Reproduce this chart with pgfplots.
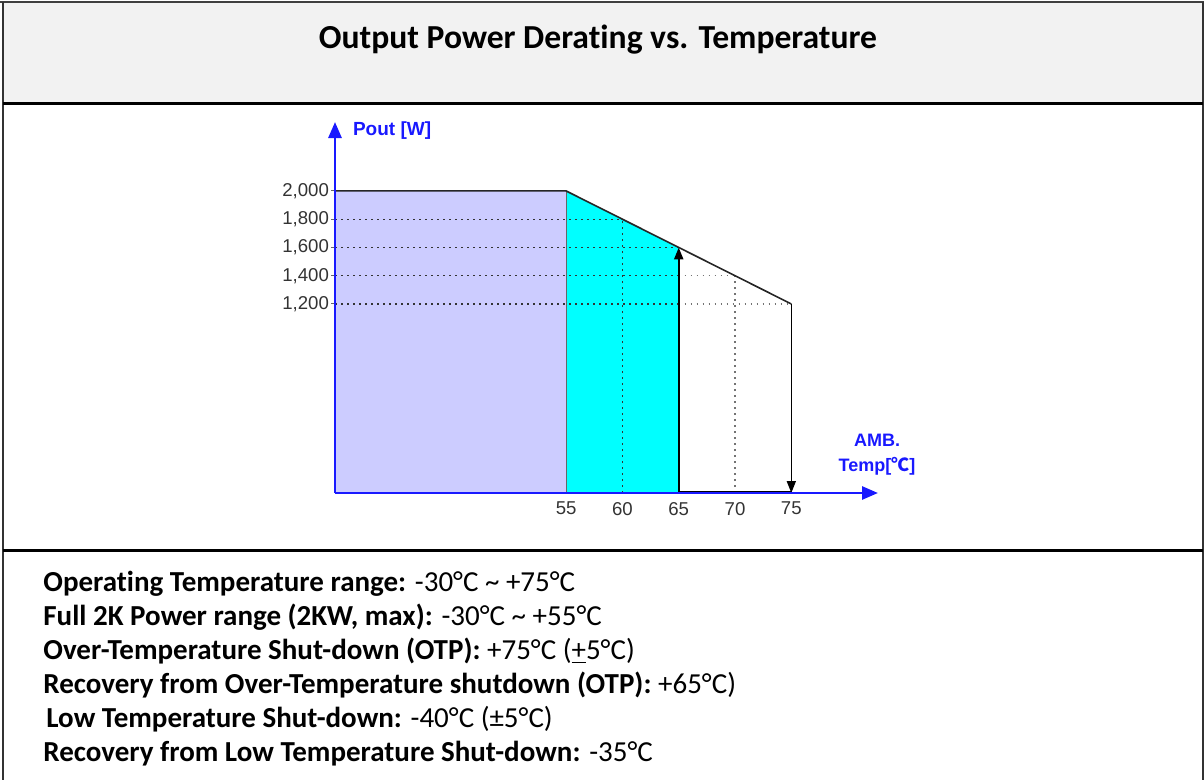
\documentclass[border=0pt]{standalone}
\usepackage{fontspec}
\setmainfont{Carlito}[Ligatures=NoCommon]
\newfontfamily\arial{Liberation Sans}
\newfontfamily\cjk{Noto Sans CJK SC}
\usepackage{pgfplots}
\pgfplotsset{compat=1.18}
\usetikzlibrary{arrows.meta}
\definecolor{lav}{RGB}{204,204,255}
\definecolor{cyn}{RGB}{0,255,255}
\definecolor{axblue}{RGB}{25,25,255}
\definecolor{band}{RGB}{242,242,242}
\begin{document}
\begin{tikzpicture}
\useasboundingbox (0,0) rectangle (602pt,-390pt);
\fill[band] (1.5pt,-1.5pt) rectangle (601.5pt,-52pt);
\draw[black!75, line width=1pt] (0,-1.2pt) -- (602pt,-1.2pt);
\draw[black!80, line width=0.6pt] (1.5pt,-1pt) -- (1.5pt,-390pt);
\draw[black!80, line width=0.6pt] (601.5pt,-1pt) -- (601.5pt,-390pt);
\draw[black, line width=1.5pt] (1.5pt,-52pt) -- (601.5pt,-52pt);
\draw[black, line width=1.5pt] (1.5pt,-275pt) -- (601.5pt,-275pt);
\node[font=\bfseries\fontsize{16.8}{19}\selectfont] at (299pt,-20pt) {Output Power Derating vs. Temperature};

\begin{axis}[
  at={(167.5pt,-246.5pt)}, anchor=south west,
  width=271.5pt, height=185.5pt, scale only axis,
  xmin=34.47, xmax=82.7, ymin=-138, ymax=2488,
  axis lines=left, clip=false, axis on top,
  axis line style={axblue, line width=1.4pt, -{Triangle[length=8pt,width=6.5pt]}},
  xtick={55,60,65,70,75}, ytick={1200,1400,1600,1800,2000},
  /pgf/number format/assume math mode=true,
  /pgf/number format/1000 sep={,},
  /pgf/number format/fixed,
  tick label style={font=\arial\fontsize{9.3}{10}\selectfont, text=black!80},
  xtick style={draw=none},
  ytick style={black!60, line width=0.5pt},
  tick align=outside, major tick length=2pt,
  yticklabel style={xshift=2.5pt},
  xticklabel style={yshift=1pt},
]
\addplot[fill=lav, draw=none] coordinates {(34.47,-138) (34.47,2000) (55,2000) (55,-138)} -- cycle;
\addplot[fill=cyn, draw=none] coordinates {(55,-138) (55,2000) (65,1600) (65,-138)} -- cycle;
% dotted grid
\addplot[black!80, line width=0.7pt, dash pattern=on 0.8pt off 2.2pt] coordinates {(34.47,1800) (60,1800)};
\addplot[black!80, line width=0.7pt, dash pattern=on 0.8pt off 2.2pt] coordinates {(34.47,1600) (65,1600)};
\addplot[black!80, line width=0.7pt, dash pattern=on 0.8pt off 2.2pt] coordinates {(34.47,1400) (65,1400)};
\addplot[black!80, line width=0.7pt, dash pattern=on 0.8pt off 2.2pt] coordinates {(34.47,1200) (65,1200)};
\addplot[black!55, line width=0.7pt, dash pattern=on 0.8pt off 2.2pt] coordinates {(65,1400) (70,1400)};
\addplot[black!55, line width=0.7pt, dash pattern=on 0.8pt off 2.2pt] coordinates {(65,1200) (75,1200)};
\addplot[black!80, line width=0.7pt, dash pattern=on 0.8pt off 2.2pt] coordinates {(60,-138) (60,1800)};
\addplot[black!55, line width=0.7pt, dash pattern=on 0.8pt off 2.2pt] coordinates {(70,-138) (70,1400)};
% outlines
\addplot[black!60, line width=0.6pt] coordinates {(55,-138) (55,2000)};
\addplot[black!85, line width=0.8pt] coordinates {(34.47,2000) (55,2000) (75,1200)};
\addplot[black, line width=1.1pt, -{Triangle[length=6pt,width=4.5pt]}] coordinates {(65,-138) (65,1600)};
\addplot[black, line width=0.8pt, -{Triangle[length=6pt,width=4.5pt]}] coordinates {(75,1200) (75,-138)};
\addplot[black, line width=0.8pt] coordinates {(65,-126) (75,-126)};
\end{axis}

\node[anchor=west, font=\arial\bfseries\fontsize{9.5}{10}\selectfont, text=axblue] at (173pt,-65.5pt) {Pout [W]};
\node[font=\arial\bfseries\fontsize{9}{10}\selectfont, text=axblue] at (438.5pt,-220pt) {AMB.};
\node[font=\arial\bfseries\fontsize{9}{10}\selectfont, text=axblue] at (438.5pt,-233pt) {Temp[{\cjk ℃}]};

\begin{scope}[every node/.style={anchor=base west, inner sep=0pt, font=\fontsize{14.5}{16}\selectfont}]
\node at (21.5pt,-295.75pt) {\textbf{Operating Temperature range:} -30°C \textasciitilde{} +75°C};
\node at (21.5pt,-312.75pt) {\textbf{Full 2K Power range (2KW, max):} -30°C \textasciitilde{} +55°C};
\node at (21.5pt,-329.75pt) {\textbf{Over-Temperature Shut-down (OTP):} +75°C (\underline{+}5°C)};
\node at (21.5pt,-346.75pt) {\textbf{Recovery from Over-Temperature shutdown (OTP):} +65°C)};
\node at (23pt,-363.75pt) {\textbf{Low Temperature Shut-down:} -40°C (±5°C)};
\node at (21.5pt,-380.75pt) {\textbf{Recovery from Low Temperature Shut-down:} -35°C};
\end{scope}
\end{tikzpicture}
\end{document}
